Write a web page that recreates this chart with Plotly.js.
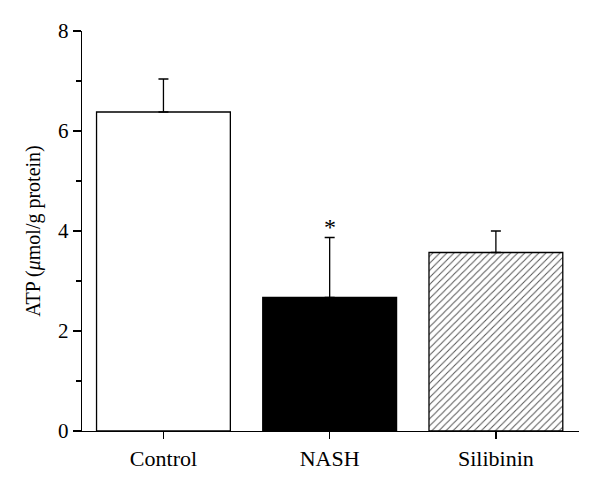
<!DOCTYPE html>
<html>
<head>
<meta charset="utf-8">
<script src="https://cdn.plot.ly/plotly-3.0.1.min.js"></script>
<style>html,body{margin:0;padding:0;background:#fff}</style>
</head>
<body>
<div id="chart" style="width:600px;height:491px"></div>
<script>
const categories = ["Control", "NASH", "Silibinin"];
const atpMeans = [6.38, 2.67, 3.57];
const atpErrors = [0.66, 1.20, 0.43];
const significance = ["", "*", ""];
const yTickValues = [0, 2, 4, 6, 8];

const font = "'Liberation Serif', 'Times New Roman', serif";

const fills = ["#ffffff", "#000000", "#ffffff"];
const patterns = ["", "", "/"];

const traces = categories.map((c, i) => {
  const marker = {color: fills[i], line: {color: "#000", width: 1.3}};
  if (patterns[i]) {
    marker.pattern = {shape: patterns[i], fgcolor: "#555", bgcolor: "#fff", fgopacity: 1, size: 5, solidity: 0.2, fillmode: "replace"};
  }
  return {
    type: "bar",
    x: [c],
    y: [atpMeans[i]],
    width: 0.805,
    marker: marker,
    error_y: {
      type: "data", symmetric: false,
      array: [atpErrors[i]], arrayminus: [0],
      color: "#000", thickness: 1.3, width: 5
    },
    hoverinfo: "none"
  };
});

const annotations = categories.map((c, i) => ({
  x: c, y: atpMeans[i] + atpErrors[i], text: significance[i],
  showarrow: false, yanchor: "bottom", yshift: -4,
  font: {family: font, size: 24, color: "#000"}
})).filter(a => a.text);

const layout = {
  width: 600, height: 491,
  margin: {l: 82, r: 21, t: 31, b: 60},
  paper_bgcolor: "#fff", plot_bgcolor: "#fff",
  showlegend: false,
  barmode: "overlay",
  font: {family: font, size: 20, color: "#000"},
  xaxis: {
    range: [-0.49, 2.5], showline: true, linecolor: "#000", linewidth: 1.3,
    ticks: "outside", ticklen: 7, tickwidth: 1.3, tickcolor: "#000",
    showgrid: false, zeroline: false, fixedrange: true,
    tickfont: {family: font, size: 22, color: "#000"}
  },
  yaxis: {
    range: [0, 8], tickvals: yTickValues, showline: true, linecolor: "#000", linewidth: 1.3,
    ticks: "outside", ticklen: 8, tickwidth: 1.3, tickcolor: "#000",
    minor: {dtick: 1, ticks: "outside", ticklen: 5, tickwidth: 1.3, tickcolor: "#000", showgrid: false},
    showgrid: false, zeroline: false, fixedrange: true,
    tickfont: {family: font, size: 21, color: "#000"},
    title: {text: "ATP (<i>μ</i>mol/g protein)", standoff: 12, font: {family: font, size: 20, color: "#000"}}
  },
  annotations: annotations
};

Plotly.newPlot("chart", traces, layout, {staticPlot: true, displayModeBar: false});
</script>
</body>
</html>
